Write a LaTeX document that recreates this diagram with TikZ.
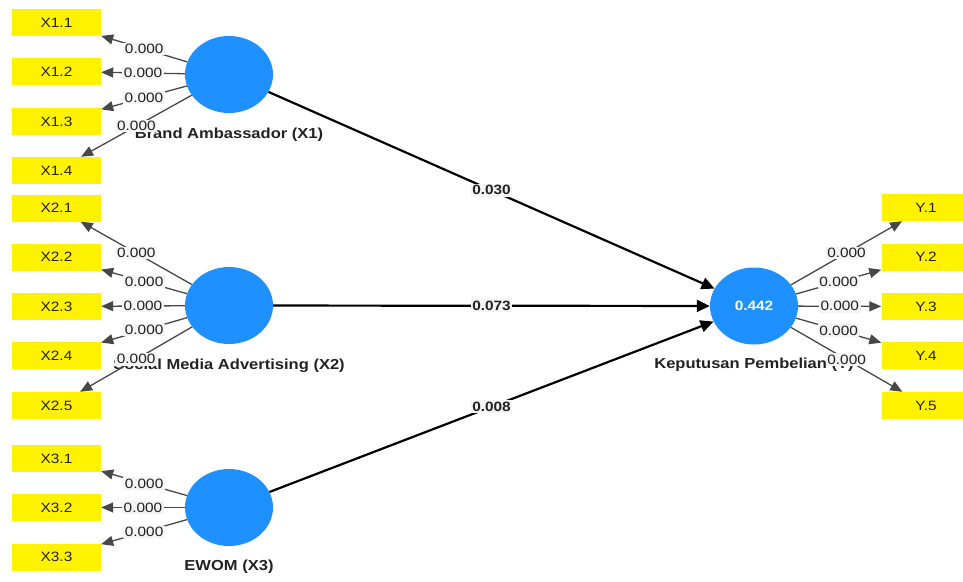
\documentclass[tikz,border=0pt]{standalone}
\usepackage{fontspec}
\setmainfont{Liberation Sans}[FakeStretch=1.14]
\usetikzlibrary{arrows.meta,shapes.geometric}
\definecolor{lvblue}{RGB}{30,144,255}
\definecolor{lblbg}{RGB}{244,244,244}
\definecolor{txt}{RGB}{34,34,34}
\begin{document}
\begin{tikzpicture}[x=1pt,y=-1pt,
 ind/.style={rectangle,fill=yellow,minimum width=89pt,minimum height=27pt,inner sep=0pt,text=txt,font=\fontsize{13.5}{15}\selectfont},
 lv/.style={ellipse,fill=lvblue,minimum width=88pt,minimum height=77pt,inner sep=0pt,text=white,font=\bfseries\fontsize{13.5}{15}\selectfont},
 lvname/.style={inner sep=0pt,text=txt,font=\bfseries\fontsize{14.5}{16}\selectfont},
 load/.style={draw=black!72,line width=1.3pt,-{Triangle[length=12pt,width=10pt]}},
 pathedge/.style={draw=black,line width=2.2pt,-{Triangle[length=13pt,width=12pt]}},
 ldlbl/.style={fill=lblbg,inner sep=1.5pt,text=txt,font=\fontsize{13.5}{15}\selectfont},
 pclbl/.style={fill=lblbg,inner sep=1.5pt,text=txt,font=\bfseries\fontsize{13.5}{15}\selectfont}
]
\useasboundingbox (0,0) rectangle (963,581);
% indicators X
\node[ind] (x11) at (56.5,22.5) {X1.1};
\node[ind] (x12) at (56.5,71.5) {X1.2};
\node[ind] (x13) at (56.5,121.5) {X1.3};
\node[ind] (x14) at (56.5,170.5) {X1.4};
\node[ind] (x21) at (56.5,208) {X2.1};
\node[ind] (x22) at (56.5,257) {X2.2};
\node[ind] (x23) at (56.5,306.5) {X2.3};
\node[ind] (x24) at (56.5,355.5) {X2.4};
\node[ind] (x25) at (56.5,405.5) {X2.5};
\node[ind] (x31) at (56.5,458.5) {X3.1};
\node[ind] (x32) at (56.5,507.5) {X3.2};
\node[ind] (x33) at (56.5,557) {X3.3};
% indicators Y
\begin{scope}
\clip (0,0) rectangle (963,581);
\node[ind] (y1) at (926,207.5) {Y.1};
\node[ind] (y2) at (926,257) {Y.2};
\node[ind] (y3) at (926,306.5) {Y.3};
\node[ind] (y4) at (926,355.5) {Y.4};
\node[ind] (y5) at (926,405.5) {Y.5};
\end{scope}
% latent variables
\node[lv] (lx1) at (229,74.5) {};
\node[lv] (lx2) at (229,305.5) {};
\node[lv] (lx3) at (229,507.5) {};
\node[lv] (ly) at (754,306) {0.442};
\node[lvname] (nx1) at (229,135) {Brand Ambassador (X1)};
\node[lvname] (nx2) at (229,366) {Social Media Advertising (X2)};
\node[lvname] (nx3) at (229,566.5) {EWOM (X3)};
\node[lvname] (ny) at (754,365) {Keputusan Pembelian (Y)};
% loadings
\foreach \s/\t in {lx1/x11,lx1/x12,lx1/x13,lx1/x14,lx2/x21,lx2/x22,lx2/x23,lx2/x24,lx2/x25,lx3/x31,lx3/x32,lx3/x33,ly/y1,ly/y2,ly/y3,ly/y4,ly/y5}
  \draw[load] (\s) -- node[ldlbl] {0.000} (\t);
% paths
\draw[pathedge] (lx1) -- node[pclbl] {0.030} (ly);
\draw[pathedge] (lx2) -- node[pclbl] {0.073} (ly);
\draw[pathedge] (lx3) -- node[pclbl] {0.008} (ly);
\end{tikzpicture}
\end{document}
